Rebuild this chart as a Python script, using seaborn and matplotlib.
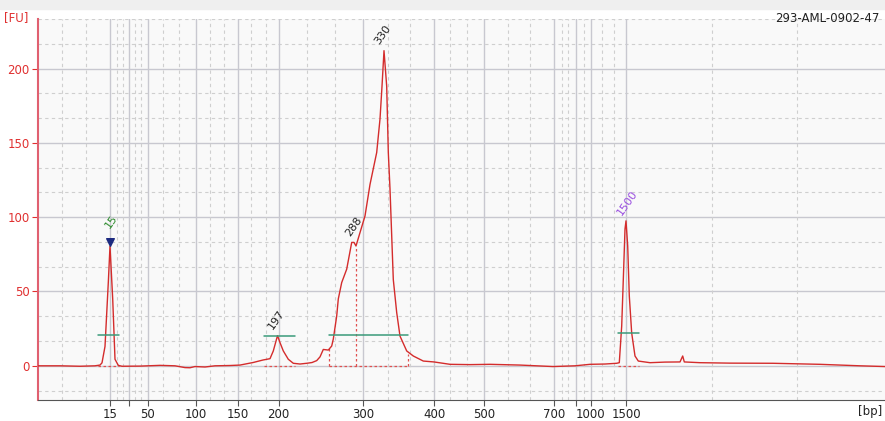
import numpy as np
import pandas as pd
import matplotlib
matplotlib.use("Agg")
import matplotlib.pyplot as plt
import seaborn as sns

# migration position (arbitrary time units) and fluorescence
t = [38, 60, 80, 95, 100, 102, 105, 108.3, 110, 112.7, 115, 118.3, 122, 140, 160, 175,
     185, 190, 195, 205, 215, 230, 240, 253, 263, 270, 273.3, 277.5, 280, 283.3, 288.3,
     293.3, 300, 306.7, 312, 316.7, 320, 323.3, 328.3, 331.7, 333.3, 336.7, 338.3, 341.7,
     346.7, 351.7, 354, 356, 360, 365, 370, 376.7, 380, 382, 384, 386.7, 388.3, 390,
     393.3, 396.7, 400, 406.7, 413.3, 423.3, 434, 450, 470, 490, 520, 553, 575, 590, 605,
     616.7, 619.3, 621.7, 623.3, 625, 626, 627.7, 629.3, 631.7, 635, 638.3, 650, 665,
     680, 682.7, 684.3, 700, 730, 773, 820, 860, 885]
fu = [0, 0, -0.3, 0, 0.5, 2, 13, 56, 80.5, 45, 4.4, 0.3, -0.3, -0.2, 0.3, 0,
      -1.2, -1.3, -0.5, -0.8, 0, 0.2, 0.5, 2.2, 3.9, 4.8, 10, 20.3, 15.6, 10, 4.4,
      1.7, 1.2, 1.7, 2.2, 3.5, 6, 11, 10.6, 13.3, 18, 33.5, 45, 56,
      65, 83, 83, 80.6, 89.6, 100.8, 122, 143.5, 166, 188, 212, 188, 143.7, 119,
      58, 35.8, 20, 10, 6.6, 3.2, 2.6, 1, 0.8, 1, 0.5, -0.5, 0, 1, 1.2,
      1.7, 2.1, 26.8, 58, 92, 97.5, 80.6, 47, 22, 6.6, 3.2, 2.1, 2.5,
      2.6, 6.6, 2.6, 2.1, 1.8, 1.7, 1, 0, -0.5]

# ladder positions on the time axis
bp_pos = [110, 128.7, 147.7, 195.7, 238, 278.7, 363, 434, 484.3, 554.3, 576.3, 590.7, 626]
bp_lab = ["15", "", "50", "100", "150", "200", "300", "400", "500", "700", "", "1000", "1500"]
minor_pos = [61.7, 86, 116.7, 122.7, 135.3, 141.3, 163.3, 179, 210, 224, 251, 265.7,
             306.7, 335, 388.3, 410, 450, 466.7, 508, 530, 561.7, 568, 584, 602, 614.3,
             711.7, 797.3]

peak_lab = ["15", "197", "288", "330", "1500"]
peak_t = [110, 277.5, 355, 384, 626]
peak_fu = [83, 20.3, 83, 212, 97.5]
peak_col = ["#2e8b2e", "#222222", "#222222", "#222222", "#9a4fe0"]

# region bars (start, end, level)
reg_t0 = [97.7, 264, 329.3, 618.3]
reg_t1 = [119.3, 295, 407.7, 639]
reg_y = [20.5, 20, 20.5, 22.3]

sns.set_style("white")
plt.rcParams['font.family'] = ['DejaVu Sans']

fig = plt.figure(figsize=(8.85, 4.21), dpi=100)
fig.patch.set_facecolor("white")
fig.patches.append(plt.Rectangle((0, 1 - 9 / 421), 1, 9 / 421, transform=fig.transFigure,
                                 color="#efefef", zorder=0))
ax = fig.add_axes([38 / 885, 21 / 421, 847 / 885, 381 / 421])
ax.set_facecolor("#f9f9f9")

for y in np.arange(-16.67, 234, 16.667):
    if abs(y - round(y / 50) * 50) > 1:
        ax.axhline(y, color="#cfcfcf", lw=0.8, ls=(0, (3, 3)), zorder=0)
for y in [0, 50, 100, 150, 200]:
    ax.axhline(y, color="#c8c8d0", lw=1, zorder=0)
for x in minor_pos:
    ax.axvline(x, color="#cfcfcf", lw=0.8, ls=(0, (3, 3)), zorder=0)
for x in bp_pos:
    ax.axvline(x, color="#c8c8d0", lw=1, zorder=0)

df = pd.DataFrame({"t": t, "fu": fu})
sns.lineplot(data=df, x="t", y="fu", ax=ax, color="#d42c2c", lw=1, sort=False, zorder=3)

# region markers
for a, b, y in zip(reg_t0, reg_t1, reg_y):
    ax.plot([a, b], [y, y], color="#3a9a7a", lw=1.1, zorder=4)
    ax.plot([a, b], [0, 0], color="#e05050", lw=0.9, ls=(0, (2, 2)), zorder=2)
ax.plot([329.3, 329.3], [0, 12], color="#e05050", lw=0.9, ls=(0, (2, 2)), zorder=2)
ax.plot([407.7, 407.7], [0, 8], color="#e05050", lw=0.9, ls=(0, (2, 2)), zorder=2)
ax.plot([356, 356], [0, 80], color="#e05050", lw=0.9, ls=(0, (2, 2)), zorder=2)

ax.scatter([peak_t[0]], [peak_fu[0]], marker="v", s=30, color="#1c2a80", zorder=5)
for lab, x, y, c in zip(peak_lab, peak_t, peak_fu, peak_col):
    dx, dy = ((1, 9) if lab == "15" else (-2, 3))
    ax.annotate(lab, (x, y), xytext=(dx, dy), textcoords="offset points", rotation=55,
                rotation_mode="anchor", ha="left", va="bottom", fontsize=8, color=c)

ax.set_xlim(38, 885)
ax.set_ylim(-23, 233.3)
ax.set_xticks(bp_pos)
ax.set_xticklabels(bp_lab, fontsize=8.5, color="#222222")
ax.set_yticks([0, 50, 100, 150, 200])
ax.set_yticklabels(["0", "50", "100", "150", "200"], fontsize=8.5, color="#e03030")
ax.tick_params(axis="x", length=4, color="#555555", direction="out", pad=2, bottom=True)
ax.tick_params(axis="y", length=4, color="#e03030", direction="out", pad=2, left=True)
ax.set_xlabel("")
ax.set_ylabel("")

for s in ["top", "right"]:
    ax.spines[s].set_visible(False)
ax.spines["left"].set_color("#e06070")
ax.spines["left"].set_linewidth(1.5)
ax.spines["bottom"].set_color("#555555")

fig.text(16 / 885, 1 - 18 / 421, "[FU]", color="#e03030", fontsize=8.5, ha="center", va="center")
fig.text(880 / 885, 1 - 19 / 421, "293-AML-0902-47", color="#222222", fontsize=8.5, ha="right", va="center")
fig.text(882 / 885, 1 - 411 / 421, "[bp]", color="#222222", fontsize=8.5, ha="right", va="center")

fig.savefig("out.png", dpi=100)
